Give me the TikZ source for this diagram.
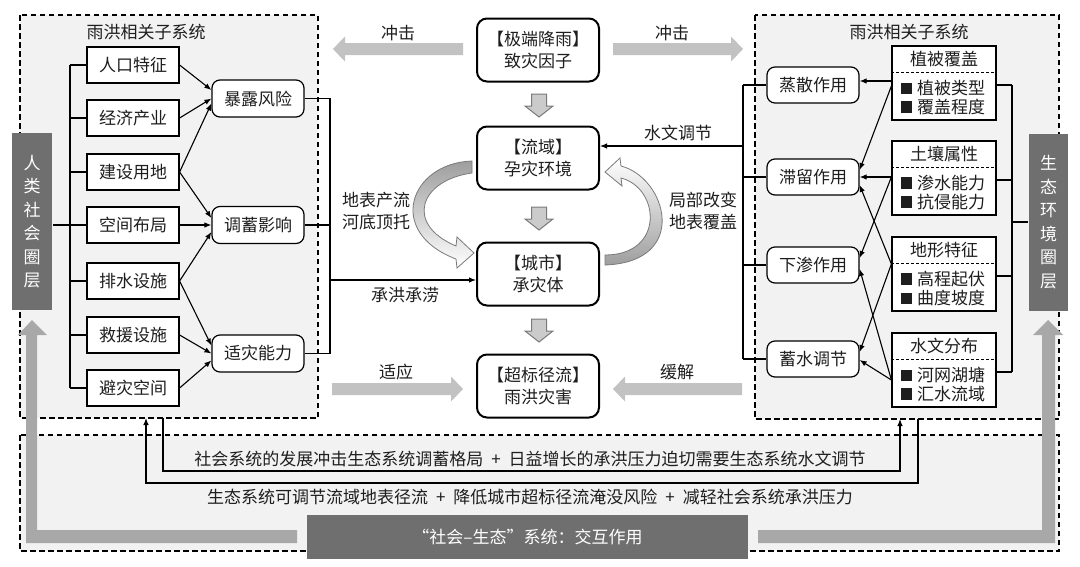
\documentclass[tikz,border=0pt]{standalone}
\usepackage{fontspec}
\setmainfont{Noto Sans CJK SC}
\usetikzlibrary{arrows.meta,calc}
\definecolor{panelbg}{HTML}{F2F2F2}
\definecolor{bardark}{HTML}{6F6F6F}
\definecolor{blockgray}{HTML}{C2C2C2}
\definecolor{Lgray}{HTML}{A8A8A8}
\definecolor{downfill}{HTML}{CBCBCB}
\definecolor{downline}{HTML}{7A7A7A}
\definecolor{txt}{HTML}{1E1E1E}
\newcommand{\sqbul}{\rule[0.5pt]{11.5pt}{11.5pt}\hspace{5pt}}
\newcommand{\plusgap}{\hspace{8pt}+\hspace{8pt}}
\begin{document}
\begin{tikzpicture}[x=1pt,y=-1pt, font=\fontsize{17}{22}\selectfont, text=txt,
  line width=1.1pt,
  panel/.style={draw=black, dash pattern=on 5.5pt off 3.5pt, line width=1.2pt, fill=panelbg},
  sqbox/.style={draw=black, fill=white, minimum width=92pt, minimum height=36pt, inner sep=0pt, line width=1.2pt},
  rdbox/.style={draw=black, fill=white, rounded corners=8pt, minimum width=92pt, minimum height=37pt, inner sep=0pt, line width=1.2pt},
  cbox/.style={draw=black, fill=white, rounded corners=10pt, minimum width=122pt, minimum height=63pt, inner sep=0pt, line width=2pt, align=center},
  factbox/.style={draw=black, fill=white, minimum width=104pt, minimum height=74pt, inner sep=0pt, line width=1.2pt},
  sidebar/.style={fill=bardark, text=white, minimum width=40pt, minimum height=177pt, inner sep=0pt, align=center, font=\fontsize{17}{23.5}\selectfont},
  lbl/.style={inner sep=0pt, align=center},
  arr/.style={-{Latex[length=7pt,width=5.5pt]}, line width=1.1pt},
  blockarr/.style={fill=blockgray, draw=none},
  downarr/.style={fill=downfill, draw=downline, line width=1pt},
  curvarr/.style={draw=downline, line width=0.8pt},
]
\fill[white] (0,0) rectangle (1080,566);
\useasboundingbox (0,0) rectangle (1080,566);

% panels
\draw[panel] (20,435) rectangle (1059,551);
\draw[panel] (20,15) rectangle (318,418);
\draw[panel] (755,15) rectangle (1059,419);

% L-shaped gray arrows
\fill[Lgray] (26,543) -- (26,335) -- (18,335) -- (32,320) -- (47,335) -- (37,335) -- (37,530) -- (297,530) -- (297,543) -- cycle;
\fill[Lgray] (1055,543) -- (1055,335) -- (1063,335) -- (1048,320) -- (1033,335) -- (1042,335) -- (1042,530) -- (758,530) -- (758,543) -- cycle;

% titles
\node[lbl] (t1) at (146,32) {雨洪相关子系统};
\node[lbl] (t2) at (909,32) {雨洪相关子系统};

% side bars
\node[sidebar] (s1) at (32,221.5) {人\\类\\社\\会\\圈\\层};
\node[sidebar, minimum width=39pt] (s2) at (1048.5,222) {生\\态\\环\\境\\圈\\层};

% left boxes
\node[sqbox] (a1) at (133,65) {人口特征};
\node[sqbox] (a2) at (133,118) {经济产业};
\node[sqbox] (a3) at (133,172) {建设用地};
\node[sqbox] (a4) at (133,225) {空间布局};
\node[sqbox] (a5) at (133,281) {排水设施};
\node[sqbox] (a6) at (133,335) {救援设施};
\node[sqbox] (a7) at (133,388) {避灾空间};

\node[rdbox] (m1) at (258,98.5) {暴露风险};
\node[rdbox] (m2) at (258,225) {调蓄影响};
\node[rdbox] (m3) at (258,353.5) {适灾能力};

% left bracket
\coordinate (lbrk) at (70,0);
\foreach \n in {a1,a2,a3,a4,a5,a6,a7} \draw (\n.west) -- (\n.west -| lbrk);
\draw (a1.west -| lbrk) -- (a7.west -| lbrk);
\draw (a4.west -| lbrk) -- (a4.west -| s1.east);

\draw[arr] (a1.east) -- ([yshift=8.5pt]m1.west);
\draw[arr] (a2.east) -- (m1.west);
\draw[arr] (a3.east) -- ([yshift=-5pt]m1.west);
\draw[arr] (a3.east) -- ([yshift=7pt]m2.west);
\draw[arr] (a4.east) -- (m2.west);
\draw[arr] (a5.east) -- ([yshift=-7pt]m2.west);
\draw[arr] (a5.east) -- ([yshift=8pt]m3.west);
\draw[arr] (a6.east) -- (m3.west);
\draw[arr] (a7.east) -- ([yshift=-7pt]m3.west);

% center column
\node[cbox] (c1) at (538,50) {【极端降雨】\\致灾因子};
\node[cbox] (c2) at (538,158) {【流域】\\孕灾环境};
\node[cbox] (c3) at (538,274) {【城市】\\承灾体};
\node[cbox] (c4) at (538,386) {【超标径流】\\雨洪灾害};

% middle bracket + 承洪承涝
\coordinate (mbrk) at (330,0);
\draw (m1.east) -- (m1.east -| mbrk) -- (m3.east -| mbrk) -- (m3.east);
\draw (m2.east) -- (m2.east -| mbrk);
\coordinate (c3in) at ([yshift=-6pt]c3.west);
\draw[arr] (c3in -| mbrk) -- (c3in);
\node[lbl] (lcc) at (405,295) {承洪承涝};
\node[lbl] (ldb) at (376,211) {地表产流\\河底顶托};
\node[lbl] (ljb) at (703,211) {局部改变\\地表覆盖};

% right panel process boxes
\node[rdbox, minimum height=36pt] (p1) at (813,85) {蒸散作用};
\node[rdbox, minimum height=36pt] (p2) at (813,177) {滞留作用};
\node[rdbox, minimum height=36pt] (p3) at (813,265) {下渗作用};
\node[rdbox, minimum height=36pt] (p4) at (813,359) {蓄水调节};

% factor boxes
\foreach \n/\h/\i/\j/\t in {f1/植被覆盖/植被类型/覆盖程度/46, f2/土壤属性/渗水能力/抗侵能力/141, f3/地形特征/高程起伏/曲度坡度/237, f4/水文分布/河网湖塘/汇水流域/333}{
  \node[factbox] (\n) at (944,\t+37) {};
  \node[lbl] at (944,\t+13) {\h};
  \draw[dash pattern=on 3pt off 2pt, line width=1pt] ([yshift=11pt]\n.west) -- ([yshift=11pt]\n.east);
  \node[lbl, anchor=west] at (900,\t+42) {\sqbul\i};
  \node[lbl, anchor=west] at (900,\t+61) {\sqbul\j};
}

% right panel arrows
\draw[arr] ([yshift=2pt]f1.west) -- ([yshift=4pt]p1.east);
\draw[arr] ([yshift=-3pt]f1.west) -- ([yshift=7pt]p2.east);
\draw[arr] ([yshift=1pt]f2.west) -- ([yshift=0pt]p2.east);
\draw[arr] ([yshift=1pt]f2.west) -- ([yshift=7pt]p3.east);
\draw[arr] ([yshift=10pt]f3.west) -- ([yshift=-8pt]p2.east);
\draw[arr] ([yshift=10pt]f3.west) -- ([yshift=7pt]p4.east);
\draw[arr] ([yshift=-10pt]f4.west) -- ([yshift=-4pt]p3.east);
\draw[arr] ([yshift=-10pt]f4.west) -- ([yshift=-1pt]p4.east);

% right panel brackets
\coordinate (rbrk) at (743,0);
\foreach \n in {p1,p2,p3,p4} \draw (\n.west) -- (\n.west -| rbrk);
\draw (p1.west -| rbrk) -- (p4.west -| rbrk);
\coordinate (c2in) at ([yshift=12pt]c2.east);
\draw[arr] (c2in -| rbrk) -- (c2in);
\node[lbl] (lsw) at (678,133) {水文调节};

\coordinate (fbrk) at (1012,0);
\foreach \n in {f1,f2,f3,f4} \draw ([yshift=-2pt]\n.east) -- ([yshift=-2pt]\n.east -| fbrk);
\draw ([yshift=-2pt]f1.east -| fbrk) -- ([yshift=-2pt]f4.east -| fbrk);
\draw (s2.west) -- (s2.west -| fbrk);

% horizontal gray block arrows
\fill[blockarr] (463,43) -- (345,43) -- (345,36.5) -- (333,49) -- (345,61.5) -- (345,55) -- (463,55) -- cycle;
\fill[blockarr] (613,43) -- (731,43) -- (731,36.5) -- (743,49) -- (731,61.5) -- (731,55) -- (613,55) -- cycle;
\fill[blockarr] (332,383) -- (451,383) -- (451,376.5) -- (463,389) -- (451,401.5) -- (451,395) -- (332,395) -- cycle;
\fill[blockarr] (742,383) -- (625,383) -- (625,376.5) -- (613,389) -- (625,401.5) -- (625,395) -- (742,395) -- cycle;
\node[lbl] (lc1) at (398,33) {冲击};
\node[lbl] (lc2) at (672,33) {冲击};
\node[lbl] (lsy) at (396,372) {适应};
\node[lbl] (lhj) at (677,372) {缓解};

% down block arrows
\foreach \t in {94,207,319}{
  \draw[downarr] (531.5,\t) -- (546.5,\t) -- (546.5,\t+12) -- (553,\t+12) -- (539,\t+23) -- (525,\t+12) -- (531.5,\t+12) -- cycle;
}

% curved arrows
\draw[curvarr, top color=black!38, bottom color=white]
  (472,161) .. controls (410,163) and (385,232) .. (456,259)
  -- (457,268) -- (474,253) -- (457,237) -- (456,246)
  .. controls (404,224) and (420,180) .. (472,173) -- cycle;
\draw[curvarr, top color=white, bottom color=black!38]
  (605,265) .. controls (690,262) and (667,178) .. (621,166)
  -- (620,158) -- (605,172) -- (622,186) -- (621,178)
  .. controls (660,188) and (665,255) .. (605,255) -- cycle;

% bottom connectors
\coordinate (lpA) at (163,418);
\coordinate (lpB) at (146,418);
\coordinate (rpA) at (900,419);
\coordinate (rpB) at (918,419);
\draw[arr] (lpA) -- ++(0,53) -| (rpA);
\draw[arr] (rpB) -- ++(0,64) -| (lpB);
\node[lbl] (bt1) at (530,459) {社会系统的发展冲击生态系统调蓄格局\plusgap 日益增长的承洪压力迫切需要生态系统水文调节};
\node[lbl] (bt2) at (530,497) {生态系统可调节流域地表径流\plusgap 降低城市超标径流淹没风险\plusgap 减轻社会系统承洪压力};

\node[fill=bardark, text=white, minimum width=441pt, minimum height=44pt, inner sep=0pt] (sb) at (527.5,537) {“社会–生态”系统：交互作用};
\end{tikzpicture}
\end{document}
